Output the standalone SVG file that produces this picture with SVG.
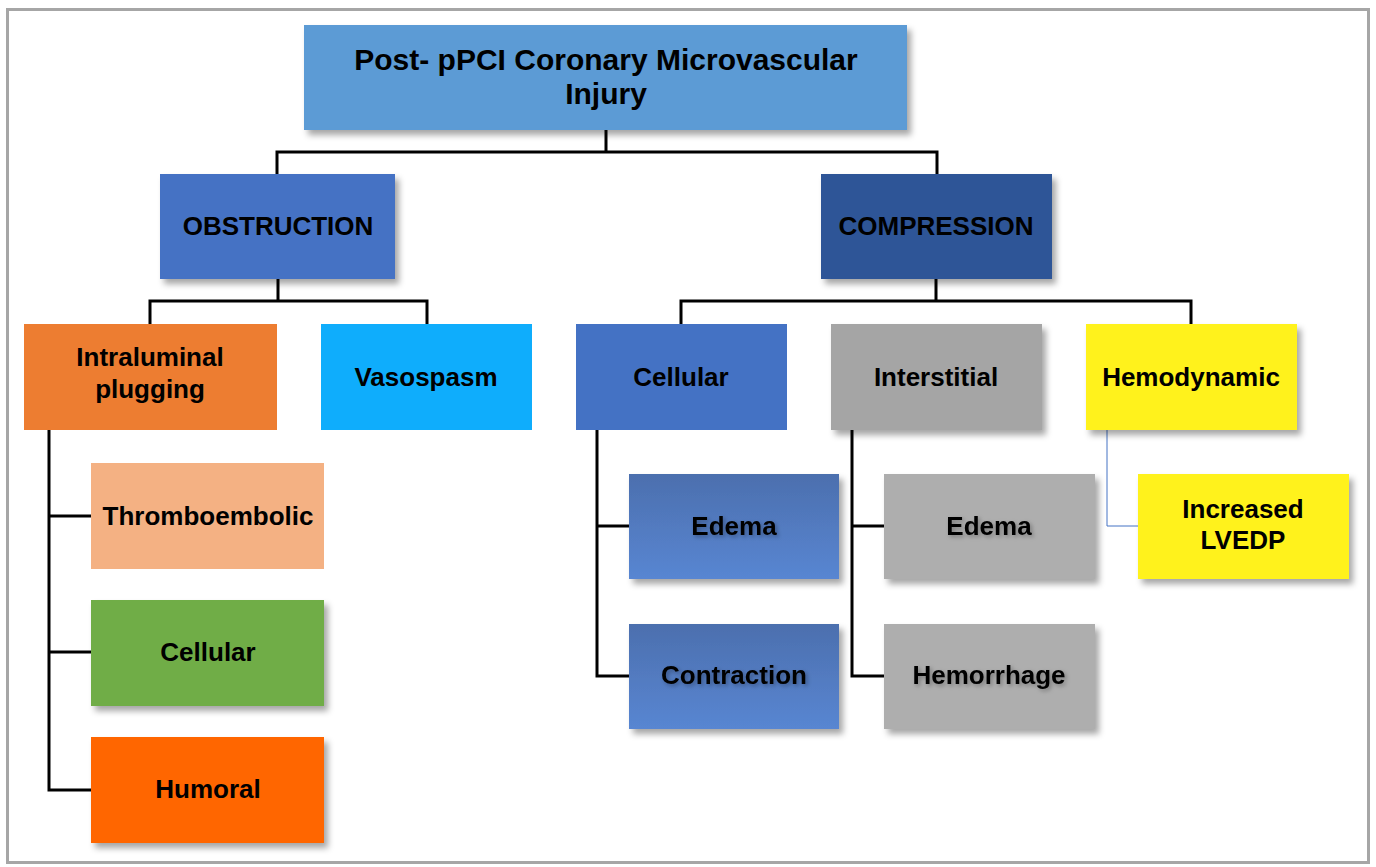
<svg xmlns="http://www.w3.org/2000/svg" width="1376" height="867" viewBox="0 0 1376 867">
<defs>
<filter id="sh" x="-10%" y="-10%" width="130%" height="140%">
<feDropShadow dx="4" dy="5" stdDeviation="3" flood-color="#000" flood-opacity="0.35"/>
</filter>
<filter id="ts" x="-10%" y="-30%" width="120%" height="160%">
<feDropShadow dx="2" dy="2" stdDeviation="2" flood-color="#000" flood-opacity="0.3"/>
</filter>
<linearGradient id="gb" x1="0" y1="0" x2="0" y2="1">
<stop offset="0" stop-color="#4C6FAE"/>
<stop offset="1" stop-color="#5886D2"/>
</linearGradient>
</defs>
<style>
text{font-family:"Liberation Sans",Arial,sans-serif;font-weight:bold;font-size:26px;fill:#000;text-anchor:middle}
.t{font-size:30px}
.c{fill:none;stroke:#000;stroke-width:3}
.b{filter:url(#sh)}
</style>
<rect x="0" y="0" width="1376" height="867" fill="#fff"/>
<rect x="7.5" y="9.5" width="1361" height="853" fill="none" stroke="#A6A6A6" stroke-width="3"/>
<g id="connectors">
<path class="c" d="M606 130V152M277 174V152H937V174"/>
<path class="c" d="M278 279V301M150 324V301H427V324"/>
<path class="c" d="M936 279V301M681 324V301H1191V324"/>
<path class="c" d="M49 430V790H91M49 516H91M49 652H91"/>
<path class="c" d="M597 430V676H629M597 526H629"/>
<path class="c" d="M852 430V676H884M852 526H884"/>
<path d="M1107 430V526H1138" fill="none" stroke="#4472C4" stroke-width="1"/>
</g>
<g id="root"><rect class="b" x="304" y="25" width="603" height="105" fill="#5B9BD5"/><text class="t" x="606" y="70">Post- pPCI Coronary Microvascular</text><text class="t" x="606" y="104">Injury</text></g>
<g id="obstruction"><rect class="b" x="160" y="174" width="235" height="105" fill="#4472C4"/><text x="278" y="235">OBSTRUCTION</text></g>
<g id="compression"><rect class="b" x="821" y="174" width="231" height="105" fill="#2F5597"/><text x="936" y="235">COMPRESSION</text></g>
<g id="intraluminal"><rect x="24" y="324" width="253" height="106" fill="#ED7D31"/><text x="150" y="366">Intraluminal</text><text x="150" y="398">plugging</text></g>
<g id="vasospasm"><rect x="321" y="324" width="211" height="106" fill="#0FADFC"/><text x="426" y="386">Vasospasm</text></g>
<g id="cellular-c"><rect x="576" y="324" width="211" height="106" fill="#4472C4"/><text x="681" y="386">Cellular</text></g>
<g id="interstitial"><rect class="b" x="831" y="324" width="211" height="106" fill="#A5A5A5"/><text x="936" y="386">Interstitial</text></g>
<g id="hemodynamic"><rect class="b" x="1086" y="324" width="211" height="106" fill="#FFF21C"/><text x="1191" y="386">Hemodynamic</text></g>
<g id="thromboembolic"><rect x="91" y="463" width="233" height="106" fill="#F4B183"/><text x="208" y="525">Thromboembolic</text></g>
<g id="cellular-o"><rect class="b" x="91" y="600" width="233" height="106" fill="#70AD47"/><text x="208" y="661">Cellular</text></g>
<g id="humoral"><rect class="b" x="91" y="737" width="233" height="106" fill="#FF6600"/><text x="208" y="798">Humoral</text></g>
<g id="edema-c"><rect class="b" x="629" y="474" width="210" height="105" fill="url(#gb)"/><text filter="url(#ts)" x="734" y="535">Edema</text></g>
<g id="contraction"><rect class="b" x="629" y="624" width="210" height="105" fill="url(#gb)"/><text filter="url(#ts)" x="734" y="684">Contraction</text></g>
<g id="edema-i"><rect class="b" x="884" y="474" width="211" height="105" fill="#AEAEAE"/><text filter="url(#ts)" x="989" y="535">Edema</text></g>
<g id="hemorrhage"><rect class="b" x="884" y="624" width="211" height="105" fill="#AEAEAE"/><text filter="url(#ts)" x="989" y="684">Hemorrhage</text></g>
<g id="lvedp"><rect class="b" x="1138" y="474" width="211" height="105" fill="#FFF21C"/><text x="1243" y="518">Increased</text><text x="1243" y="549">LVEDP</text></g>
</svg>
